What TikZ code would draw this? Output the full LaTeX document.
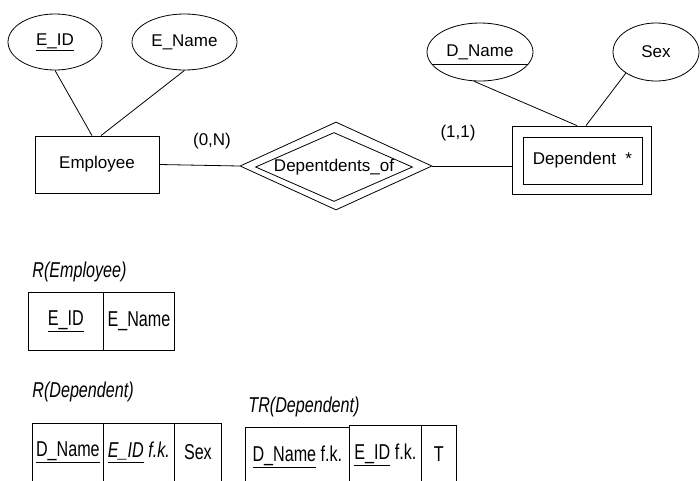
\documentclass[tikz,border=0pt]{standalone}
\usepackage{fontspec}
\setmainfont{Liberation Sans}
\newfontfamily\narrowfont[FakeStretch=0.75]{Liberation Sans}
\usetikzlibrary{shapes.geometric}

\begin{document}
\begin{tikzpicture}[x=1pt, y=-1pt, line width=0.8pt,
  font=\fontsize{17}{20}\selectfont,
  attr/.style={draw, ellipse, inner sep=0pt},
  entity/.style={draw, rectangle, inner sep=0pt},
  rel/.style={draw, diamond, inner sep=0pt, aspect=2.3},
  cell/.style={draw, rectangle, inner sep=0pt, minimum height=58pt,
    anchor=north west, font=\narrowfont\fontsize{21.5}{24}\selectfont},
  reltitle/.style={anchor=west, inner sep=0pt,
    font=\narrowfont\itshape\fontsize{21.5}{24}\selectfont}]
  \useasboundingbox (0,0) rectangle (700,480);
  \clip (0,0) rectangle (700,480);

  % Employee entity and its attributes
  \node[entity, minimum width=124pt, minimum height=57pt] (emp) at (97,164.5) {Employee};
  \node[attr, minimum width=94pt, minimum height=56pt] (eid) at (55,42) {\underline{E\_ID}};
  \node[attr, minimum width=105pt, minimum height=56pt] (ename) at (184.5,42) {E\_Name};
  \draw (eid.south) -- ([xshift=-5pt]emp.north);
  \draw (ename.south) -- ([xshift=4pt]emp.north);

  % Identifying relationship (double diamond)
  \node[rel, minimum width=192pt, minimum height=88pt] (rel) at (336,166) {};
  \node[rel, minimum width=157pt, minimum height=69pt] (relin) at (334,167) {Depentdents\_of};

  % Weak entity Dependent (double box)
  \node[entity, minimum width=139pt, minimum height=68pt] (dep) at (581.5,160) {};
  \node[entity, minimum width=119pt, minimum height=47pt] (depin) at (582.5,160.5) {Dependent\ \ *};
  \node[attr, minimum width=106pt, minimum height=58pt] (dname) at (480,52) {D\_Name};
  \node[attr, minimum width=86pt, minimum height=58pt] (sex) at (656,52) {Sex};
  % partial key line
  \draw (dname.195) -- (dname.-15);
  \draw (dname.258) -- ([xshift=-4.5pt]dep.north);
  \draw (sex.215) -- ([xshift=4.5pt]dep.north);

  % links with cardinalities
  \draw (emp.east) -- (rel.west);
  \draw (rel.east) -- (rel.east -| dep.west);
  \node (cardemp) at (212,141) {(0,N)};
  \node (carddep) at (458,133) {(1,1)};

  % R(Employee)
  \node[reltitle] (remp) at (32,272) {R(Employee)};
  \node[cell, minimum width=75pt] (remp1) at (28,292) {\underline{E\_ID}};
  \node[cell, minimum width=71pt] (remp2) at (103,292) {E\_Name};

  % R(Dependent)
  \node[reltitle] (rdep) at (32,392) {R(Dependent)};
  \node[cell, minimum width=71pt] (rdep1) at (32,423) {\underline{D\_Name}};
  \node[cell, minimum width=71pt] (rdep2) at (103,423) {\itshape\underline{E\_ID} f.k.};
  \node[cell, minimum width=47pt] (rdep3) at (174,423) {Sex};

  % TR(Dependent)
  \node[reltitle] (trdep) at (248,407) {TR(Dependent)};
  \node[cell, minimum width=104pt] (trdep1) at (245,427) {\underline{D\_Name} f.k.};
  \node[cell, minimum width=72pt] (trdep2) at (349,425) {\underline{E\_ID} f.k.};
  \node[cell, minimum width=35pt] (trdep3) at (421,425) {T};
\end{tikzpicture}
\end{document}
